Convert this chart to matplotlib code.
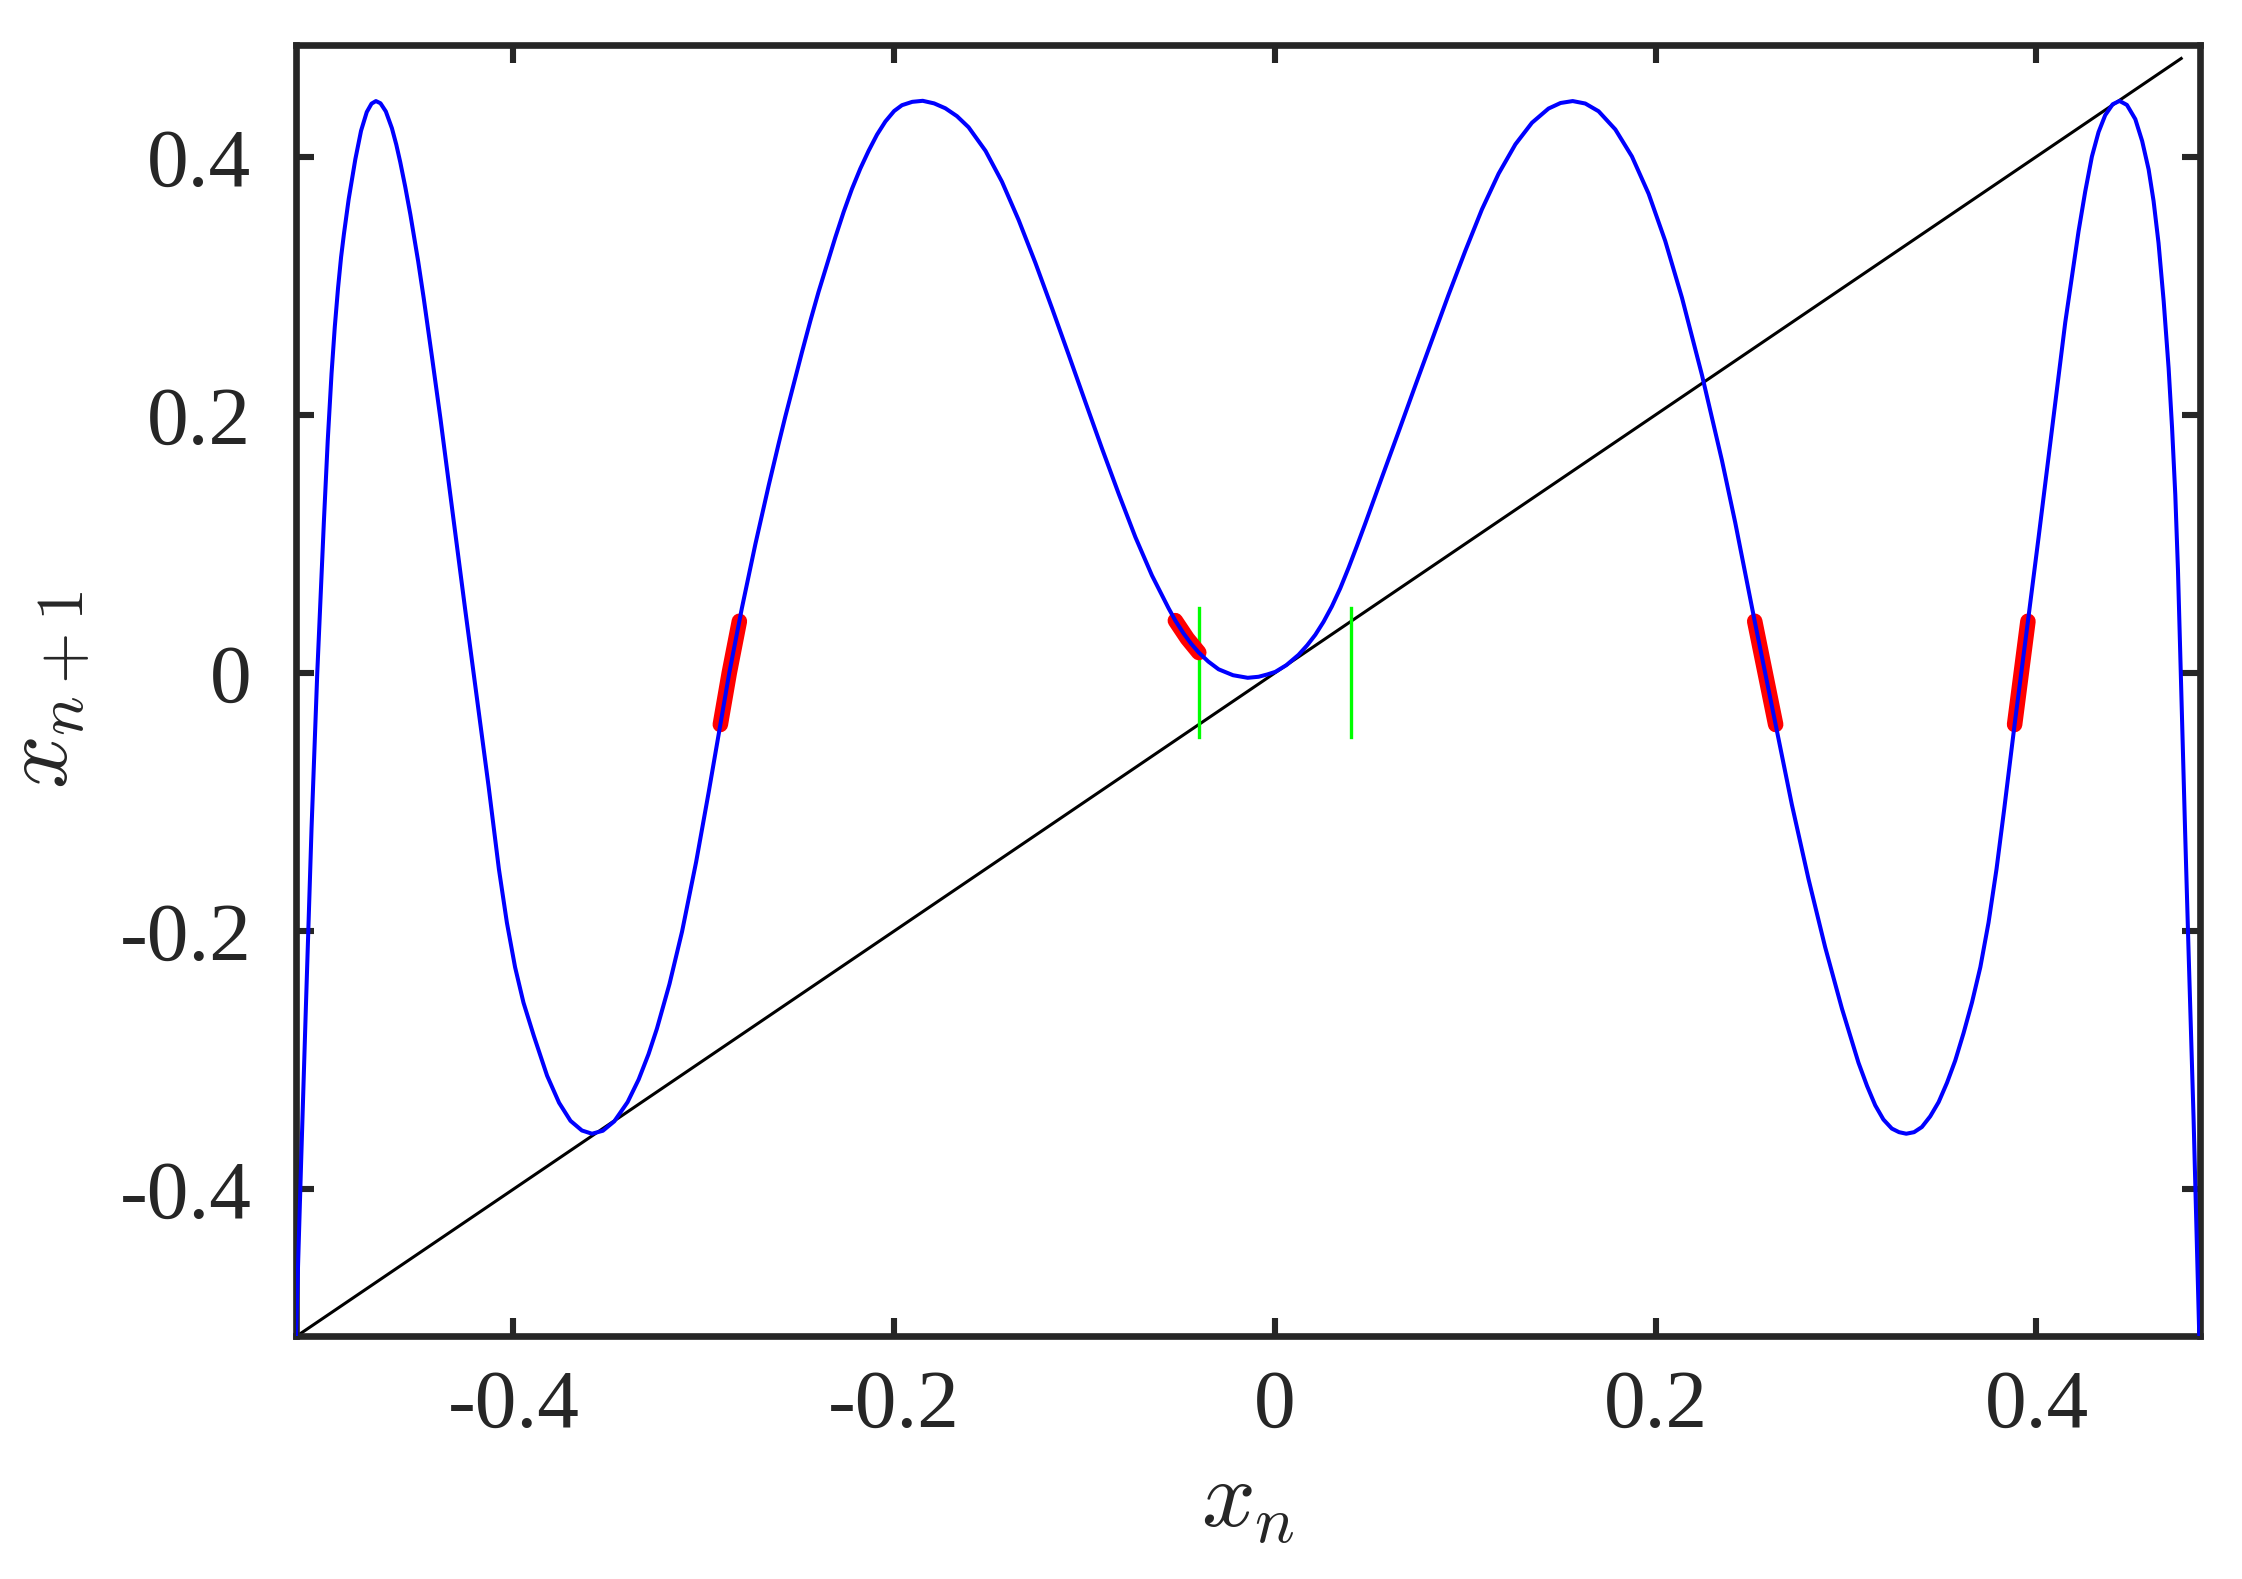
import matplotlib

matplotlib.use("Agg")
import matplotlib.pyplot as plt

# map x_n -> x_{n+1}
curve_x = [
    -0.5142, -0.5115, -0.5090, -0.5060, -0.5030, -0.4995, -0.4975, -0.4955,
    -0.4938, -0.4921, -0.4905, -0.4890, -0.4865, -0.4830, -0.4800, -0.4770,
    -0.4745, -0.4722, -0.4698, -0.4670, -0.4638, -0.4615, -0.4594, -0.4568,
    -0.4541, -0.4500, -0.4471, -0.4427, -0.4383, -0.4340, -0.4296, -0.4253,
    -0.4209, -0.4170, -0.4130, -0.4076, -0.4034, -0.3991, -0.3947, -0.3893,
    -0.3823, -0.3760, -0.3700, -0.3640, -0.3587, -0.3530, -0.3470, -0.3400,
    -0.3342, -0.3290, -0.3246, -0.3180, -0.3114, -0.3040, -0.2974, -0.2920,
    -0.2866, -0.2800, -0.2729, -0.2659, -0.2607, -0.2572, -0.2484, -0.2440,
    -0.2397, -0.2309, -0.2265, -0.2222, -0.2178, -0.2134, -0.2090, -0.2046,
    -0.2000, -0.1959, -0.1905, -0.1850, -0.1790, -0.1731, -0.1670, -0.1609,
    -0.1520, -0.1434, -0.1346, -0.1258, -0.1170, -0.1084, -0.0996, -0.0909,
    -0.0821, -0.0733, -0.0646, -0.0559, -0.0523, -0.0480, -0.0440, -0.0400,
    -0.0350, -0.0296, -0.0220, -0.0143, -0.0086, -0.0040, 0.0002, 0.0060,
    0.0124, 0.0170, 0.0212, 0.0255, 0.0299, 0.0343, 0.0387, 0.0431,
    0.0475, 0.0562, 0.0650, 0.0737, 0.0825, 0.0912, 0.1000, 0.1087,
    0.1175, 0.1263, 0.1350, 0.1437, 0.1500, 0.1564, 0.1630, 0.1700,
    0.1788, 0.1875, 0.1963, 0.2050, 0.2138, 0.2243, 0.2348, 0.2418,
    0.2520, 0.2575, 0.2630, 0.2715, 0.2803, 0.2890, 0.2978, 0.3065,
    0.3110, 0.3153, 0.3196, 0.3240, 0.3278, 0.3316, 0.3357, 0.3398,
    0.3442, 0.3486, 0.3530, 0.3573, 0.3617, 0.3661, 0.3705, 0.3748,
    0.3790, 0.3830, 0.3885, 0.3920, 0.3955, 0.4011, 0.4081, 0.4151,
    0.4221, 0.4256, 0.4291, 0.4326, 0.4361, 0.4400, 0.4436, 0.4475,
    0.4519, 0.4555, 0.4589, 0.4615, 0.4641, 0.4668, 0.4694, 0.4712,
    0.4729, 0.4743, 0.4755, 0.4768, 0.4781, 0.4799, 0.4825, 0.4855,
]
curve_y = [
    -0.5140, -0.3800, -0.2600, -0.1200, 0.0000, 0.1180, 0.1800, 0.2320,
    0.2680, 0.2980, 0.3220, 0.3400, 0.3670, 0.3980, 0.4200, 0.4345,
    0.4410, 0.4430, 0.4413, 0.4350, 0.4220, 0.4093, 0.3956, 0.3766,
    0.3551, 0.3188, 0.2904, 0.2442, 0.1970, 0.1480, 0.0980, 0.0490,
    0.0000, -0.0440, -0.0880, -0.1520, -0.1935, -0.2280, -0.2554, -0.2810,
    -0.3120, -0.3330, -0.3470, -0.3545, -0.3570, -0.3547, -0.3474, -0.3325,
    -0.3150, -0.2953, -0.2756, -0.2410, -0.2004, -0.1464, -0.0923, -0.0459,
    0.0000, 0.0500, 0.0997, 0.1452, 0.1774, 0.1984, 0.2486, 0.2728,
    0.2952, 0.3374, 0.3572, 0.3748, 0.3906, 0.4045, 0.4170, 0.4272,
    0.4353, 0.4398, 0.4424, 0.4432, 0.4412, 0.4374, 0.4313, 0.4227,
    0.4044, 0.3806, 0.3508, 0.3176, 0.2822, 0.2467, 0.2100, 0.1741,
    0.1389, 0.1052, 0.0755, 0.0502, 0.0405, 0.0306, 0.0226, 0.0158,
    0.0088, 0.0028, -0.0018, -0.0038, -0.0030, -0.0012, 0.0008, 0.0060,
    0.0140, 0.0215, 0.0295, 0.0395, 0.0515, 0.0655, 0.0815, 0.0985,
    0.1160, 0.1515, 0.1870, 0.2225, 0.2580, 0.2930, 0.3270, 0.3590,
    0.3868, 0.4095, 0.4262, 0.4372, 0.4415, 0.4430, 0.4411, 0.4351,
    0.4210, 0.4001, 0.3711, 0.3346, 0.2906, 0.2307, 0.1645, 0.1162,
    0.0400, 0.0000, -0.0400, -0.1020, -0.1600, -0.2125, -0.2600, -0.3020,
    -0.3200, -0.3350, -0.3460, -0.3530, -0.3558, -0.3570, -0.3558, -0.3518,
    -0.3435, -0.3325, -0.3175, -0.3004, -0.2790, -0.2554, -0.2280, -0.1935,
    -0.1520, -0.1060, -0.0400, 0.0000, 0.0400, 0.1050, 0.1880, 0.2715,
    0.3422, 0.3730, 0.4000, 0.4190, 0.4321, 0.4405, 0.4431, 0.4400,
    0.4290, 0.4120, 0.3900, 0.3655, 0.3330, 0.2880, 0.2360, 0.1900,
    0.1380, 0.0800, 0.0150, -0.0550, -0.1250, -0.2170, -0.3450, -0.5140,
]

# diagonal x_{n+1} = x_n
diag_x = [-0.5142, 0.4760]
diag_y = [-0.5142, 0.4760]

# preimages of the small interval (red) and the interval itself (green)
red_x = [
    [-0.2913, -0.2866, -0.2813],
    [-0.0523, -0.0460, -0.0400],
    [0.2520, 0.2575, 0.2630],
    [0.3885, 0.3920, 0.3955],
]
red_y = [
    [-0.040, 0.000, 0.040],
    [0.0405, 0.0266, 0.0158],
    [0.040, 0.000, -0.040],
    [-0.040, 0.000, 0.040],
]
green_x = [-0.040, 0.040]
green_y = [-0.050, 0.050]

x_ticks = [-0.4, -0.2, 0, 0.2, 0.4]
y_ticks = [-0.4, -0.2, 0, 0.2, 0.4]
tick_labels = ["-0.4", "-0.2", "0", "0.2", "0.4"]
x_lim = (-0.5142, 0.4858)
y_lim = (-0.5137, 0.4868)

plt.rcParams["mathtext.fontset"] = "cm"
plt.rcParams["font.family"] = ["Liberation Serif", "DejaVu Serif"]

fig = plt.figure(figsize=(11.21, 7.895), dpi=200)
ax = fig.add_axes([0.1320, 0.1539, 0.8492, 0.8179])

ax.plot(curve_x, curve_y, color="#0000ff", linewidth=1.45, zorder=3)
ax.plot(diag_x, diag_y, color="black", linewidth=1.1, zorder=2)
for xs, ys in zip(red_x, red_y):
    ax.plot(xs, ys, color="#ff0000", linewidth=5.6, solid_capstyle="round", zorder=2.5)
for gx in green_x:
    ax.plot([gx, gx], green_y, color="#00ff00", linewidth=1.2, zorder=2)

ax.set_xlim(*x_lim)
ax.set_ylim(*y_lim)
ax.set_xticks(x_ticks)
ax.set_xticklabels(tick_labels)
ax.set_yticks(y_ticks)
ax.set_yticklabels(tick_labels)

frame = "#262626"
for spine in ax.spines.values():
    spine.set_linewidth(2.4)
    spine.set_color(frame)
ax.tick_params(axis="both", direction="in", length=6.5, width=2.2, color=frame,
               labelcolor=frame, labelsize=30, top=True, right=True)
ax.tick_params(axis="x", pad=12)
ax.tick_params(axis="y", pad=16)

ax.set_xlabel("$x_n$", fontsize=34, color=frame, labelpad=6)
ax.set_ylabel("$x_{n+1}$", fontsize=34, color=frame, labelpad=10)

fig.savefig("out.png", dpi=200)
plt.close(fig)
